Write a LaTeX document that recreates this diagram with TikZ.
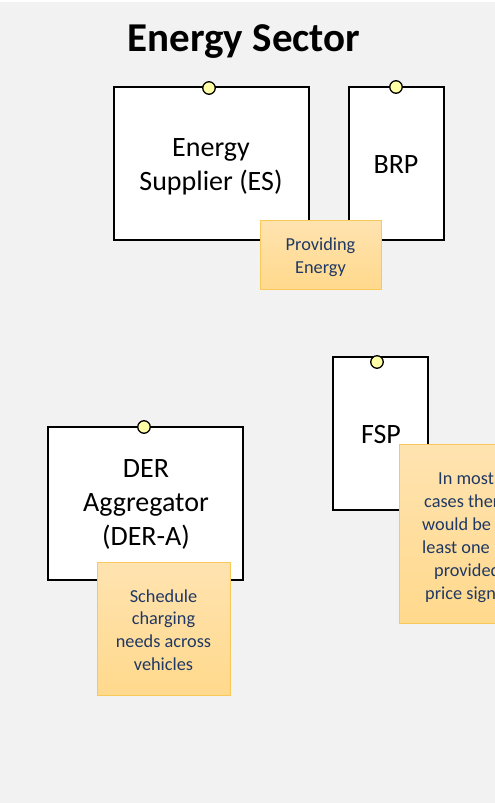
\documentclass[tikz,border=0pt]{standalone}
\usepackage{fontspec}
\setmainfont{Carlito}
\definecolor{canvas}{HTML}{F2F2F2}
\definecolor{pin}{HTML}{FFFFA6}
\definecolor{notetop}{HTML}{FFE3B0}
\definecolor{notebot}{HTML}{FFD98C}
\definecolor{noteedge}{HTML}{F9C85A}
\definecolor{notetext}{HTML}{203864}
\tikzset{
  actor/.style={draw=black, line width=2pt, fill=white, inner sep=0pt},
  actortext/.style={align=center, inner sep=0pt, font=\fontsize{28}{34}\selectfont},
  pinhead/.style={circle, draw=black, line width=1.3pt, fill=pin,
    minimum size=12.5pt, inner sep=0pt},
  note/.style={draw=noteedge, line width=0.8pt, top color=notetop,
    bottom color=notebot, inner sep=0pt},
  notetxt/.style={align=center, inner sep=0pt, text=notetext,
    font=\fontsize{18.3}{22.8}\selectfont},
  noteline/.style={anchor=base west, inner sep=0pt, text=notetext,
    font=\fontsize{18.3}{22.8}\selectfont}
}
\begin{document}
\begin{tikzpicture}[x=1pt,y=-1pt]
\useasboundingbox (0,0) rectangle (495,803);
\clip (0,0) rectangle (495,803);
\fill[white] (0,0) rectangle (495,803);
\fill[canvas] (0,2) rectangle (495,803);

% heading
\node[anchor=base, inner sep=0pt, font=\fontsize{41}{48}\selectfont\bfseries]
  (title) at (244,51) {Energy Sector};

% actors
\node[actor, minimum width=195pt, minimum height=153pt] (es) at (211.5,163.5) {};
\node[actortext] (estext) at (211,167) {Energy\\Supplier (ES)};
\node[actor, minimum width=95pt, minimum height=153pt] (brp) at (396.5,163.5) {};
\node[actortext] (brptext) at (396,165) {BRP};
\node[actor, minimum width=95pt, minimum height=153pt] (fsp) at (380.5,433.5) {};
\node[actortext] (fsptext) at (381,435) {FSP};
\node[actor, minimum width=195pt, minimum height=153pt] (dera) at (145.5,503.5) {};
\node[actortext] (deratext) at (146,504) {DER\\Aggregator\\(DER-A)};

% pins on top of the actors
\node[pinhead] (espin) at (209,88) {};
\node[pinhead] (brppin) at (396,87) {};
\node[pinhead] (fsppin) at (377,362) {};
\node[pinhead] (derpin) at (144,427) {};

% notes
\node[note, minimum width=121pt, minimum height=69pt] (n1) at (320.5,254.5) {};
\node[notetxt] (n1text) at (320.5,257) {Providing\\Energy};
\node[note, minimum width=133pt, minimum height=133pt] (n3) at (163.5,628.5) {};
\node[notetxt] (n3text) at (163.5,630) {Schedule\\charging\\needs across\\vehicles};
\node[note, anchor=north west, minimum width=131pt, minimum height=179pt] (n2)
  at (399,444) {};
\node[noteline] (n2a) at (438,484) {In most};
\node[noteline] (n2b) at (424,507) {cases there};
\node[noteline] (n2c) at (422,530) {would be};
\node[noteline] (n2d) at (422,553) {least one};
\node[noteline] (n2e) at (434,576) {provided};
\node[noteline] (n2f) at (425,599) {price signal};
\end{tikzpicture}
\end{document}
